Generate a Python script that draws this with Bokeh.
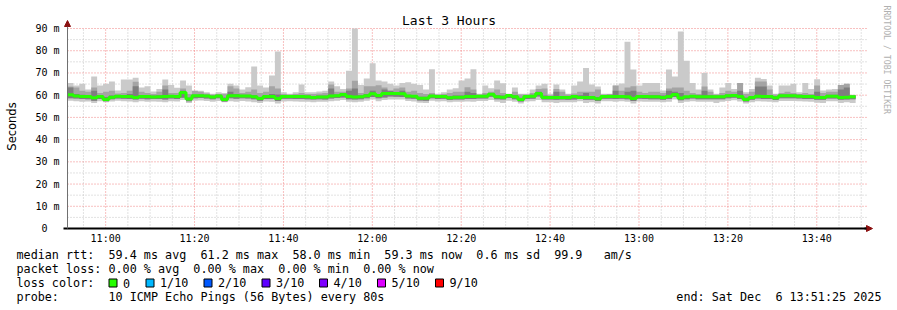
import math
from bokeh.plotting import figure
from bokeh.models import Range1d, FixedTicker, Arrow, NormalHead
from bokeh.core.properties import value
from bokeh.embed import file_html
from bokeh.resources import INLINE

# ---------------- data ----------------
t_start = 10 * 60 + 51 + 25 / 60.0      # 10:51:25 in minutes
t_end = 13 * 60 + 51 + 25 / 60.0        # 13:51:25
step_min = 80 / 60.0                    # one probe every 80 s

median = [60.2, 59.6, 59.4, 59.4, 58.8, 59.4, 58.1, 59.1, 59.5, 59.4,
          59.4, 58.9, 59.4, 59.4, 59.2, 59.3, 59.4, 59.5, 59.4, 61.2,
          58.3, 59.7, 59.7, 59.6, 59.2, 59.6, 58.0, 59.7, 59.7, 59.6,
          59.6, 59.3, 58.5, 59.4, 59.4, 58.5, 59.4, 59.4, 59.4, 59.4,
          59.3, 59.0, 59.2, 59.2, 59.6, 59.7, 60.3, 59.4, 59.2, 59.3,
          59.7, 60.6, 59.8, 60.7, 60.7, 60.7, 60.6, 59.6, 59.5, 58.6,
          58.6, 59.6, 59.4, 59.4, 58.8, 59.1, 59.1,
          59.4, 59.4, 59.5, 59.55, 60.4, 59.3, 59.1, 59.8, 59.3, 58.1,
          59.4, 59.5, 60.7, 59.0, 59.0, 59.0, 59.0, 59.0, 59.4, 59.0,
          58.9, 58.9, 58.4, 59.4, 59.4, 59.4, 59.4, 59.3, 58.5, 59.4,
          59.4, 59.25, 59.25, 59.0, 59.4, 60.3, 58.7, 59.3, 59.5, 59.25,
          59.25, 59.25, 59.25, 59.25, 59.7, 59.85, 59.4, 58.1, 58.9, 59.55,
          59.4, 59.4, 58.8, 59.7, 59.7, 59.7, 59.55, 59.4, 59.4, 58.95,
          58.95, 59.55, 59.55, 59.0, 59.1, 59.3]

smoke_max = [65.5, 64.3, 65.1, 62.5, 68.4, 64.3, 65.1, 66.1, 62.1, 67.0,
             67.0, 67.8, 63.4, 64.0, 61.6, 62.8, 67.0, 64.6, 63.3, 66.6,
             64.3, 62.0, 62.0, 61.3, 60.6, 61.3, 61.0, 65.1, 64.3, 62.5,
             63.6, 72.9, 64.3, 63.5, 68.8, 79.7, 61.3, 60.6, 61.3, 64.8,
             61.3, 61.3, 61.7, 62.0, 66.1, 64.0, 62.8, 71.0, 90.0, 64.6,
             67.5, 74.4, 66.6, 66.1, 65.1, 64.3, 65.5, 65.8, 65.1, 64.6,
             62.5, 71.7, 60.6, 61.3, 62.5, 63.1, 66.6,
             67.5, 71.7, 60.6, 64.3, 63.1, 66.6, 65.4, 60.6, 63.4, 60.6,
             60.6, 62.5, 64.3, 65.1, 60.6, 64.8, 62.5, 60.6, 64.3, 66.1,
             72.2, 64.8, 63.9, 60.6, 60.6, 64.3, 65.2, 84.0, 71.5, 64.3,
             65.5, 65.5, 65.5, 62.1, 71.5, 68.4, 88.7, 75.5, 65.5, 62.5,
             70.0, 62.5, 60.6, 63.4, 65.5, 62.8, 65.5, 61.3, 62.8, 67.8,
             67.3, 64.3, 60.6, 64.3, 64.3, 65.1, 61.3, 65.5, 62.8, 67.2,
             62.1, 62.5, 62.8, 64.6, 65.1, 60.2]

smoke_hi = [63.9, 63.5, 62.0, 61.5, 63.5, 61.0, 61.5, 62.0, 60.8, 61.0,
            62.0, 66.0, 61.5, 61.0, 60.5, 61.5, 64.3, 61.0, 61.0, 63.0,
            60.5, 62.0, 61.5, 60.8, 60.3, 60.5, 60.5, 64.0, 63.0, 61.0,
            61.5, 62.5, 61.0, 61.5, 64.0, 63.0, 60.5, 60.3, 60.5, 61.0,
            60.5, 60.5, 60.8, 61.0, 64.8, 61.5, 61.5, 63.0, 66.5, 61.0,
            64.0, 64.0, 64.5, 63.5, 62.0, 63.0, 63.5, 61.5, 62.0, 61.0,
            60.5, 61.0, 60.3, 60.5, 61.0, 61.5, 61.5,
            63.6, 62.5, 60.3, 61.0, 61.5, 62.5, 61.0, 60.3, 61.5, 60.3,
            60.3, 61.0, 62.8, 63.0, 60.0, 62.8, 61.5, 60.3, 60.8, 61.5,
            61.5, 61.5, 62.5, 60.3, 60.5, 64.3, 62.0, 63.5, 64.0, 61.5,
            61.0, 61.5, 61.5, 61.0, 63.0, 63.5, 63.5, 62.0, 61.0, 60.5,
            63.9, 61.5, 60.3, 61.0, 62.0, 61.5, 65.5, 60.5, 61.5, 66.1,
            66.1, 62.5, 60.3, 61.0, 61.5, 61.0, 60.5, 61.0, 60.5, 64.3,
            61.0, 61.5, 61.5, 64.6, 65.1, 60.0]

smoke_dark = [63.5, 60.5, 60.2, 60.0, 62.0, 60.0, 59.2, 59.8, 60.0, 60.0,
              60.5, 64.0, 60.0, 60.0, 59.8, 60.0, 62.5, 60.0, 60.0, 62.0,
              59.0, 60.2, 60.3, 60.2, 59.8, 60.2, 59.0, 61.5, 60.5, 60.2,
              60.2, 60.0, 59.2, 60.0, 60.5, 60.3, 60.0, 60.0, 60.0, 60.0,
              59.8, 59.5, 59.8, 59.8, 63.0, 60.3, 61.0, 62.0, 63.0, 60.0,
              60.5, 62.0, 60.5, 62.5, 62.0, 61.3, 62.0, 60.2, 60.0, 59.3,
              59.3, 60.2, 60.0, 60.0, 59.5, 59.8, 59.8,
              61.5, 61.0, 60.0, 60.2, 61.0, 60.0, 59.8, 60.3, 60.0, 58.8,
              60.0, 60.2, 61.5, 59.8, 59.6, 61.5, 59.6, 59.6, 59.6, 60.0,
              61.0, 59.6, 59.2, 60.0, 60.0, 62.0, 60.0, 61.5, 62.0, 60.0,
              60.0, 60.0, 60.0, 59.8, 62.0, 61.5, 61.0, 59.5, 60.0, 60.0,
              62.0, 60.0, 59.8, 59.8, 60.3, 60.5, 62.0, 59.0, 59.5, 63.9,
              63.9, 60.0, 59.5, 60.3, 60.3, 60.3, 60.2, 60.0, 60.0, 61.5,
              59.6, 60.2, 60.2, 62.5, 63.5, 59.8]

smoke_lo = [58.6, 58.5, 58.3, 58.2, 57.5, 58.3, 57.3, 58.2, 58.5, 58.4,
            58.3, 58.0, 58.4, 58.2, 58.3, 58.3, 58.0, 58.5, 58.3, 58.8,
            57.3, 58.6, 58.7, 58.5, 58.2, 58.6, 57.2, 58.6, 58.4, 58.6,
            58.5, 58.2, 57.5, 58.3, 58.3, 57.4, 58.4, 58.4, 58.3, 58.3,
            58.2, 58.0, 58.2, 58.1, 58.5, 58.7, 59.0, 58.2, 58.0, 58.2,
            58.6, 59.2, 58.6, 59.0, 59.4, 59.3, 59.2, 58.5, 58.4, 57.6,
            57.5, 58.6, 58.3, 58.4, 57.8, 58.0, 58.0,
            58.3, 58.3, 58.5, 58.5, 59.3, 58.2, 58.0, 58.7, 58.2, 57.2,
            58.3, 58.4, 59.4, 58.0, 58.0, 57.9, 58.0, 57.9, 58.0, 58.4,
            57.9, 57.9, 57.4, 58.4, 58.4, 58.3, 58.4, 58.2, 57.4, 58.4,
            58.3, 58.2, 58.2, 57.9, 58.3, 59.2, 57.7, 58.2, 58.5, 58.2,
            58.2, 58.2, 58.2, 58.2, 58.6, 58.8, 58.3, 57.1, 57.9, 58.5,
            58.3, 58.3, 57.8, 58.6, 58.6, 58.6, 58.5, 58.3, 58.3, 57.9,
            57.9, 58.5, 58.5, 57.9, 58.0, 58.2]

smoke_min = [57.5, 57.3, 57.0, 57.2, 56.5, 57.3, 56.8, 57.2, 57.5, 57.3,
             57.2, 56.8, 57.3, 57.0, 57.2, 57.0, 56.8, 57.3, 57.2, 57.8,
             56.5, 57.5, 57.6, 57.4, 57.0, 57.4, 56.8, 57.3, 57.0, 57.4,
             57.2, 56.8, 56.5, 57.2, 57.0, 56.3, 57.2, 57.3, 57.2, 57.0,
             57.0, 56.8, 57.0, 57.0, 57.3, 57.5, 57.8, 57.0, 56.8, 57.0,
             57.5, 58.0, 57.3, 57.8, 58.0, 58.0, 58.0, 57.4, 57.2, 56.6,
             56.5, 57.5, 57.2, 57.3, 56.8, 57.0, 57.0,
             57.2, 57.0, 57.4, 57.4, 57.8, 57.0, 56.5, 57.5, 57.0, 56.3,
             57.2, 57.3, 57.8, 56.8, 56.8, 56.5, 56.8, 56.8, 56.8, 57.3,
             56.5, 56.8, 56.3, 57.3, 57.3, 57.0, 57.3, 57.0, 56.3, 57.2,
             57.0, 57.0, 57.0, 56.8, 57.0, 58.0, 56.5, 57.0, 57.3, 57.0,
             57.0, 57.0, 56.5, 57.0, 57.4, 57.7, 57.2, 56.3, 56.8, 57.3,
             57.2, 57.0, 56.8, 57.4, 57.4, 57.4, 57.3, 57.2, 57.0, 56.6,
             56.5, 57.3, 57.3, 56.5, 56.8, 56.5]

y_ticks = [0, 10, 20, 30, 40, 50, 60, 70, 80, 90]
y_tick_labels = ["0\u00a0\u00a0", "10 m", "20 m", "30 m", "40 m",
                 "50 m", "60 m", "70 m", "80 m", "90 m"]
x_ticks = [660, 680, 700, 720, 740, 760, 780, 800, 820]
x_tick_labels = ["11:00", "11:20", "11:40", "12:00", "12:20",
                 "12:40", "13:00", "13:20", "13:40"]

legend_lines = [
    "median rtt:  59.4 ms avg  61.2 ms max  58.0 ms min  59.3 ms now  0.6 ms sd  99.9   am/s",
    "packet loss: 0.00 % avg  0.00 % max  0.00 % min  0.00 % now",
    "loss color:",
    "probe:       10 ICMP Echo Pings (56 Bytes) every 80s",
]
loss_labels = ["0", "1/10", "2/10", "3/10", "4/10", "5/10", "9/10"]
loss_colors = ["#26ff00", "#00b8ff", "#0059ff", "#5e00ff", "#7e00ff", "#dd00ff", "#ff0000"]
end_text = "end: Sat Dec  6 13:51:25 2025"
title_text = "Last 3 Hours"
ylabel_text = "Seconds"
credit_text = "RRDTOOL / TOBI OETIKER"

# ---------------- geometry helpers (pixel -> data) ----------------
W, H = 897, 310
PX_X0, PX_PER_MIN = 67, 800 / 180.0
PX_Y0, PX_PER_MS = 228, 200 / 90.0


def dx(px):
    return t_start + (px - PX_X0) / PX_PER_MIN


def dy(py):
    return (PX_Y0 - py) / PX_PER_MS


MONO = "DejaVu Sans Mono"
NB = "\u00a0"

n = len(median)
left = [t_start + i * step_min for i in range(n)]
right = [l + step_min for l in left]


def band(lo, hi):
    xs, ys = [], []
    for i in range(n):
        xs += [left[i], right[i]]
        ys += [hi[i], hi[i]]
    for i in reversed(range(n)):
        xs += [right[i], left[i]]
        ys += [lo[i], lo[i]]
    return xs, ys


# ---------------- figure: frame covers whole canvas ----------------
p = figure(width=W, height=H, output_backend="svg", toolbar_location=None,
           x_range=Range1d(dx(0), dx(W)), y_range=Range1d(dy(H), dy(0)),
           min_border=0, min_border_left=0, min_border_right=0,
           min_border_top=0, min_border_bottom=0)
p.outline_line_color = None
p.xgrid.visible = False
p.ygrid.visible = False
p.background_fill_color = "white"
p.border_fill_color = "white"

# grid
minor_x = [m for m in range(655, 832, 5) if m % 20 != 0]
major_x = [m for m in range(660, 832, 20)]
minor_y = [v for v in range(5, 91, 10)]
major_y = [v for v in range(10, 91, 10)]
GRID_MINOR = "#c4c4c4"
GRID_MAJOR = "#f08080"
p.segment(x0=minor_x, y0=[0] * len(minor_x), x1=minor_x, y1=[90] * len(minor_x),
          line_color=GRID_MINOR, line_width=1, line_dash="1 2")
p.segment(x0=[t_start] * len(minor_y), y0=minor_y, x1=[t_end] * len(minor_y), y1=minor_y,
          line_color=GRID_MINOR, line_width=1, line_dash="1 2")
p.segment(x0=major_x, y0=[0] * len(major_x), x1=major_x, y1=[90] * len(major_x),
          line_color=GRID_MAJOR, line_width=1, line_dash="1 2")
p.segment(x0=[t_start] * len(major_y), y0=major_y, x1=[t_end] * len(major_y), y1=major_y,
          line_color=GRID_MAJOR, line_width=1, line_dash="1 2")

# smoke
for lo, hi, col in [(smoke_min, smoke_max, "#cacaca"),
                    (smoke_lo, smoke_hi, "#a4a4a4"),
                    (smoke_lo, smoke_dark, "#7e7e7e")]:
    xs, ys = band(lo, hi)
    p.patch(xs, ys, fill_color=col, line_color=None)

# median line (stepped)
p.step(x=left + [right[-1]], y=median + [median[-1]], mode="after",
       line_color="#26ff00", line_width=3)

# axes at fixed locations inside the canvas
p.yaxis.fixed_location = t_start
p.xaxis.fixed_location = 0
p.yaxis.bounds = (0, dy(21))
p.xaxis.bounds = (dx(63), dx(870))
p.yaxis.ticker = FixedTicker(ticks=y_ticks)
p.yaxis.major_label_overrides = {t: s for t, s in zip(y_ticks, y_tick_labels)}
p.xaxis.ticker = FixedTicker(ticks=x_ticks)
p.xaxis.major_label_overrides = {t: s for t, s in zip(x_ticks, x_tick_labels)}
for ax in (p.xaxis[0], p.yaxis[0]):
    ax.major_tick_in = 0
    ax.major_tick_out = 0
    ax.minor_tick_in = 0
    ax.minor_tick_out = 0
    ax.major_label_text_font = MONO
    ax.major_label_text_font_size = "10px"
    ax.major_label_text_color = "black"
p.xaxis.major_label_standoff = 4
p.yaxis.major_label_standoff = 8
p.yaxis.axis_line_color = "#707070"
p.yaxis.axis_line_width = 1
p.xaxis.axis_line_color = "black"
p.xaxis.axis_line_width = 2

# axis arrows
p.add_layout(Arrow(end=NormalHead(size=6, fill_color="#8b1010", line_color="#8b1010"),
                   x_start=t_start, y_start=dy(26), x_end=t_start, y_end=dy(20),
                   line_color="#707070", line_width=1))
p.add_layout(Arrow(end=NormalHead(size=6, fill_color="#8b1010", line_color="#8b1010"),
                   x_start=dx(864), y_start=0, x_end=dx(872), y_end=0,
                   line_color="black", line_width=2))

# texts around the graph
p.text(x=[dx(448.5)], y=[dy(20)], text=[title_text], text_align="center",
       text_baseline="middle", text_font=value(MONO), text_font_size="13px",
       text_color="black")
p.text(x=[dx(11)], y=[dy(126)], text=[ylabel_text], text_align="center",
       text_baseline="middle", angle=math.pi / 2, text_font=value("DejaVu Sans"),
       text_font_size="11.5px", text_color="black")
p.text(x=[dx(886)], y=[dy(5)], text=[credit_text], text_align="left",
       text_baseline="middle", angle=-math.pi / 2, text_font=value(MONO),
       text_font_size="8.2px", text_color="#b0b0b0")

# legend
LEG_FS = "11.75px"
row_py = [254.5, 268.5, 282.5, 296.5]
p.text(x=[dx(16)] * 4, y=[dy(r) for r in row_py],
       text=[s.replace(" ", NB) for s in legend_lines],
       text_font=value(MONO), text_font_size=LEG_FS, text_baseline="middle",
       text_align="left", text_color="black")
sq_left = [108.5, 145.5, 203.5, 261.5, 319.0, 377.0, 435.0]
p.scatter(x=[dx(s + 4) for s in sq_left], y=[dy(row_py[2])] * len(sq_left),
          marker="square", size=8, fill_color=loss_colors, line_color="black", line_width=1)
p.text(x=[dx(s + 14) for s in sq_left], y=[dy(row_py[2])] * len(sq_left), text=loss_labels,
       text_font=value(MONO), text_font_size=LEG_FS, text_baseline="middle",
       text_align="left", text_color="black")
p.text(x=[dx(881)], y=[dy(row_py[3])], text=[end_text.replace(" ", NB)],
       text_font=value(MONO), text_font_size=LEG_FS, text_baseline="middle",
       text_align="right", text_color="black")

open("out.html", "w").write(file_html(p, INLINE))
